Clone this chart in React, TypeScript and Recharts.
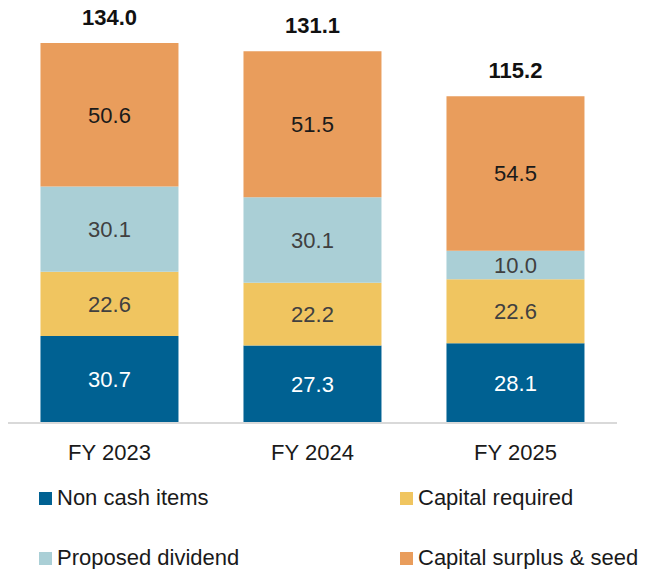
import React from "react";
import { BarChart, Bar, XAxis, YAxis, LabelList, Legend } from "recharts";

const categories = ["FY 2023", "FY 2024", "FY 2025"];
const nonCashItems = [30.7, 27.3, 28.1];
const capitalRequired = [22.6, 22.2, 22.6];
const proposedDividend = [30.1, 30.1, 10.0];
const capitalSurplus = [50.6, 51.5, 54.5];
const totals = [134.0, 131.1, 115.2];

const seriesNames = ["Non cash items", "Capital required", "Proposed dividend", "Capital surplus & seed"];
const seriesKeys = ["nonCash", "capReq", "dividend", "surplus"];
const seriesColors = ["#006192", "#F0C560", "#AACFD6", "#E99D5C"];
const labelColors = ["#FFFFFF", "#404040", "#404040", "#1A1A1A"];

const data = categories.map((c, i) => ({
  name: c,
  nonCash: nonCashItems[i],
  capReq: capitalRequired[i],
  dividend: proposedDividend[i],
  surplus: capitalSurplus[i],
  total: totals[i],
}));

const FONT = "'Liberation Sans', Arial, sans-serif";

const Tick = (props: any) => {
  const { x, y, payload } = props;
  return (
    <text x={x} y={y} dy={29} textAnchor="middle" fill="#1A1A1A" fontSize={22} fontFamily={FONT}>
      {payload.value}
    </text>
  );
};

const TotalLabel = (props: any) => {
  const { x, y, width, value } = props;
  return (
    <text x={x + width / 2} y={y - 18} textAnchor="middle" fill="#111" fontSize={22} fontWeight="bold" fontFamily={FONT}>
      {Number(value).toFixed(1)}
    </text>
  );
};

const CustomLegend = () => (
  <div style={{ position: "relative", width: 647, height: 86, fontFamily: FONT, fontSize: 22, color: "#1A1A1A" }}>
    {seriesNames.map((n, i) => {
      const left = i % 2 === 0 ? 39 : 400;
      const top = i < 2 ? 0 : 60;
      return (
        <div key={n} style={{ position: "absolute", left, top, display: "flex", alignItems: "center", whiteSpace: "nowrap", height: 26, lineHeight: "26px" }}>
          <span style={{ display: "inline-block", width: 13, height: 13, background: seriesColors[i], marginRight: 5 }} />
          <span>{n}</span>
        </div>
      );
    })}
  </div>
);

export default function App() {
  return (
    <div style={{ position: "absolute", left: 0, top: 0, width: 647, height: 569, background: "#fff" }}>
      <BarChart
        width={647}
        height={569}
        data={data}
        margin={{ top: 43, right: 30, left: 8, bottom: 20 }}
        barCategoryGap="16%"
      >
        <XAxis
          dataKey="name"
          axisLine={{ stroke: "#D9D9D9", strokeWidth: 2 }}
          tickLine={false}
          tick={<Tick />}
          height={40}
        />
        <YAxis hide domain={[0, 134]} />
        <Legend
          verticalAlign="bottom"
          content={() => <CustomLegend />}
          wrapperStyle={{ position: "absolute", left: 0, top: 485, width: 647, height: 86 }}
        />
        {seriesKeys.map((k, i) => (
          <Bar key={k} dataKey={k} name={seriesNames[i]} stackId="a" fill={seriesColors[i]} isAnimationActive={false}>
            <LabelList
              dataKey={k}
              position="center"
              fill={labelColors[i]}
              fontSize={22}
              fontFamily={FONT}
              formatter={(v: any) => Number(v).toFixed(1)}
            />
            {i === 3 ? <LabelList dataKey="total" content={<TotalLabel />} /> : null}
          </Bar>
        ))}
      </BarChart>
    </div>
  );
}
